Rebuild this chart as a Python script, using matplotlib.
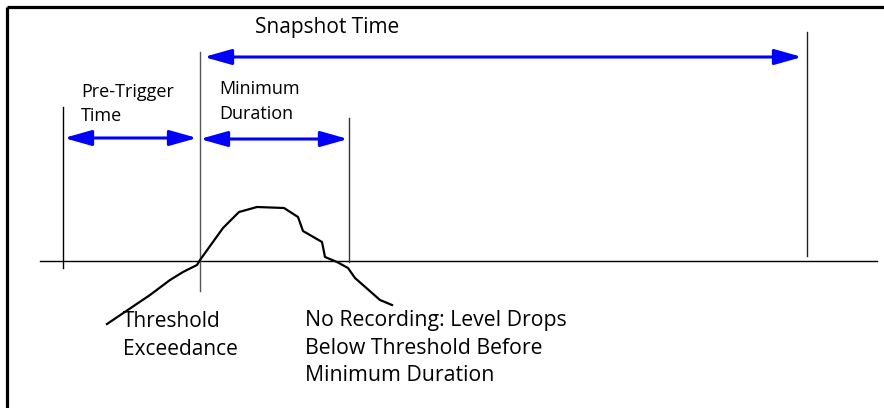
import matplotlib
matplotlib.use("Agg")
import matplotlib.pyplot as plt
from matplotlib.patches import FancyArrowPatch

plt.rcParams['font.family'] = ['Open Sans', 'DejaVu Sans']

# signal curve (diagram units: x to the right, y downward)
curve_x = [107, 150, 170, 183, 197, 200, 223, 239, 257, 284, 298, 303, 322, 325, 337, 348, 355, 380, 392]
curve_y = [324, 295, 280, 272, 265, 260, 228, 212, 207, 208, 217, 231, 242, 257, 262, 268, 278, 300, 305]

# threshold baseline
threshold_y = 261
threshold_x = [40, 877]

# vertical markers: x, top, bottom, colour
markers_x = [63, 199.5, 349, 807]
markers_top = [107, 52, 118, 32]
markers_bottom = [268, 291, 262, 256]
markers_color = ['black', '#555555', '#333333', '#222222']

# spans (double arrows): start, end, y
span_start = [204, 64, 200]
span_end = [802, 197, 348]
span_y = [57, 138, 139]

# text lines: text, x, baseline y, size
labels = ['Snapshot Time', 'Pre-Trigger', 'Time', 'Minimum', 'Duration',
          'Threshold', 'Exceedance',
          'No Recording: Level Drops', 'Below Threshold Before', 'Minimum Duration']
labels_x = [255, 81, 81, 219, 219, 123, 123, 305, 305, 305]
labels_y = [33, 97, 121, 94, 119, 327, 355, 326, 354, 381]
labels_size = [15, 13, 13, 13, 13, 15, 15, 15.3, 15.3, 15.3]

fig = plt.figure(figsize=(8.84, 4.08), dpi=100)
ax = fig.add_axes([0, 0, 1, 1])
ax.set_xlim(0, 884)
ax.set_ylim(408, 0)
ax.axis('off')

# frame (top and left)
ax.plot([6.5, 884], [6.5, 6.5], color='black', lw=2.3, solid_capstyle='butt')
ax.plot([6.5, 6.5], [6.5, 408], color='black', lw=2.3, solid_capstyle='butt')

ax.plot(threshold_x, [threshold_y, threshold_y], color='black', lw=1.0)
for x, t, b, c in zip(markers_x, markers_top, markers_bottom, markers_color):
    ax.plot([x, x], [t, b], color=c, lw=1.0)

ax.plot(curve_x, curve_y, color='black', lw=1.6, solid_joinstyle='round')

for s, e, y in zip(span_start, span_end, span_y):
    arr = FancyArrowPatch((s, y), (e, y),
                          arrowstyle='<|-|>,head_length=0.46,head_width=0.13',
                          mutation_scale=36, color='#0000ff', lw=2.2,
                          shrinkA=0, shrinkB=0)
    ax.add_patch(arr)

for t, x, y, s in zip(labels, labels_x, labels_y, labels_size):
    ax.text(x, y, t, fontsize=s, ha='left', va='baseline')

fig.savefig('out.png', dpi=100)
